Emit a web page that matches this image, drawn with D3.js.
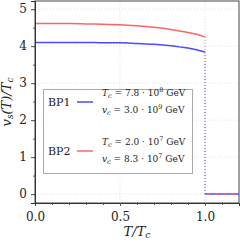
<!DOCTYPE html>
<html>
<head>
<meta charset="utf-8">
<script src="https://cdn.jsdelivr.net/npm/d3@7"></script>
<style>
  html, body { margin: 0; padding: 0; background: #fff; }
  svg text { font-family: "DejaVu Serif", "Liberation Serif", "Times New Roman", serif !important; }
</style>
</head>
<body>
<svg id="chart" width="240" height="242"></svg>
<script>
// temperature ratio T/Tc where the curves were read
const tValues = [0, 0.1, 0.2, 0.3, 0.4, 0.5, 0.6, 0.7, 0.8, 0.85, 0.9, 0.95, 1.0];
const bp1Values = [4.10, 4.10, 4.10, 4.10, 4.09, 4.09, 4.07, 4.05, 4.01, 3.98, 3.95, 3.90, 3.84];
const bp2Values = [4.61, 4.61, 4.61, 4.60, 4.59, 4.58, 4.55, 4.51, 4.45, 4.41, 4.37, 4.32, 4.25];
const tAfter = [1.0, 1.2];
const zeroAfter = [0, 0];

const xTicks = [0, 0.5, 1.0];
const yTicks = [0, 1, 2, 3, 4, 5];
const xMinor = [0, 0.1, 0.2, 0.3, 0.4, 0.5, 0.6, 0.7, 0.8, 0.9, 1.0, 1.1];
const yMinor = [0, 0.5, 1, 1.5, 2, 2.5, 3, 3.5, 4, 4.5, 5];

const legendNames = ["BP1", "BP2"];
const legendTc = ["7.8", "2.0"];
const legendTcExp = ["8", "7"];
const legendVc = ["3.0", "8.3"];
const legendVcExp = ["9", "7"];

const blue = "#4b4bff";
const red = "#ff6464";

const margin = { top: 1, right: 1, bottom: 39, left: 35 };
const width = 240 - margin.left - margin.right;
const height = 242 - margin.top - margin.bottom;

const svg = d3.select("#chart");
const g = svg.append("g").attr("transform", `translate(${margin.left},${margin.top})`);

const xScale = d3.scaleLinear().domain([0, 1.2]).range([0, width]);
const yScale = d3.scaleLinear().domain([-0.24, 5.22]).range([height, 0]);

// grid
g.append("g")
  .selectAll("line")
  .data(yTicks)
  .join("line")
  .attr("x1", 0)
  .attr("x2", width)
  .attr("y1", (d) => yScale(d))
  .attr("y2", (d) => yScale(d))
  .attr("stroke", "#d8d8d8")
  .attr("stroke-width", 0.8)
  .attr("stroke-dasharray", "1,2");

g.append("g")
  .selectAll("line")
  .data(xTicks.slice(1))
  .join("line")
  .attr("x1", (d) => xScale(d))
  .attr("x2", (d) => xScale(d))
  .attr("y1", 0)
  .attr("y2", height)
  .attr("stroke", "#d8d8d8")
  .attr("stroke-width", 0.8)
  .attr("stroke-dasharray", "1,2");

// frame
g.append("rect")
  .attr("width", width)
  .attr("height", height)
  .attr("fill", "none")
  .attr("stroke", "#444")
  .attr("stroke-width", 1);

// curves
const line = d3
  .line()
  .x((d) => xScale(d[0]))
  .y((d) => yScale(d[1]))
  .curve(d3.curveMonotoneX);

g.append("path")
  .datum(d3.zip(tValues, bp2Values))
  .attr("d", line)
  .attr("fill", "none")
  .attr("stroke", red)
  .attr("stroke-width", 1.5);

g.append("path")
  .datum(d3.zip(tValues, bp1Values))
  .attr("d", line)
  .attr("fill", "none")
  .attr("stroke", blue)
  .attr("stroke-width", 1.5);

// drops at T = Tc
[[bp2Values, red], [bp1Values, blue]].forEach(([vals, color]) => {
  g.append("line")
    .attr("x1", xScale(1.0))
    .attr("x2", xScale(1.0))
    .attr("y1", yScale(vals[vals.length - 1]))
    .attr("y2", yScale(0))
    .attr("stroke", color)
    .attr("stroke-opacity", 0.7)
    .attr("stroke-width", 1)
    .attr("stroke-dasharray", "1,2");
});

// zero after Tc
g.append("path")
  .datum(d3.zip(tAfter, zeroAfter))
  .attr("d", d3.line().x((d) => xScale(d[0])).y((d) => yScale(d[1])))
  .attr("stroke", blue)
  .attr("stroke-width", 1.5);

g.append("path")
  .datum(d3.zip(tAfter, zeroAfter))
  .attr("d", d3.line().x((d) => xScale(d[0])).y((d) => yScale(d[1])))
  .attr("stroke", red)
  .attr("stroke-width", 1.5)
  .attr("stroke-dasharray", "4,4")
  .attr("stroke-dashoffset", -2);

// axes
const xAxisMinor = g.append("g")
  .attr("transform", `translate(0,${height})`)
  .call(d3.axisBottom(xScale).tickValues(xMinor).tickSize(2).tickFormat(""));
const xAxis = g.append("g")
  .attr("transform", `translate(0,${height})`)
  .call(d3.axisBottom(xScale).tickValues(xTicks).tickSize(3).tickPadding(6).tickFormat(d3.format(".1f")));
const yAxisMinor = g.append("g")
  .call(d3.axisLeft(yScale).tickValues(yMinor).tickSize(2).tickFormat(""));
const yAxis = g.append("g")
  .call(d3.axisLeft(yScale).tickValues(yTicks).tickSize(4).tickPadding(4).tickFormat(d3.format("d")));

[xAxisMinor, xAxis, yAxisMinor, yAxis].forEach((ax) => {
  ax.attr("font-family", null);
  ax.select(".domain").attr("stroke", "#333");
  ax.selectAll(".tick line").attr("stroke", "#555");
  ax.selectAll("text")
    .attr("font-size", 12)
    .attr("fill", "#222");
});

// axis labels
svg.append("text")
  .attr("x", margin.left + width / 2)
  .attr("y", 236)
  .attr("text-anchor", "middle")
  .attr("font-size", 13)
  .attr("font-style", "italic")
  .attr("fill", "#222")
  .call((t) => {
    t.append("tspan").text("T/T");
    t.append("tspan").attr("font-size", 9).attr("dy", 2).text("c");
  });

svg.append("text")
  .attr("transform", `translate(11,${margin.top + height / 2}) rotate(-90)`)
  .attr("text-anchor", "middle")
  .attr("font-size", 13)
  .attr("font-style", "italic")
  .attr("fill", "#222")
  .call((t) => {
    t.append("tspan").text("v");
    t.append("tspan").attr("font-size", 9).attr("dy", 2).text("s");
    t.append("tspan").attr("dy", -2).text("(T)/T");
    t.append("tspan").attr("font-size", 9).attr("dy", 2).text("c");
  });

// legend
const legend = svg.append("g");
legend.append("rect")
  .attr("x", 43.5)
  .attr("y", 89.5)
  .attr("width", 149)
  .attr("height", 84)
  .attr("fill", "#fff")
  .attr("stroke", "#aaa")
  .attr("stroke-width", 1);

const rows = [102, 151];
const colors = [blue, red];

function mathLine(sel, sym, val, exp) {
  sel.append("tspan").attr("font-style", "italic").text(sym);
  sel.append("tspan").attr("font-style", "italic").attr("font-size", 6.5).attr("dy", 2).text("c");
  sel.append("tspan").attr("dy", -2).text(` = ${val} · 10`);
  sel.append("tspan").attr("font-size", 6.5).attr("dy", -4).text(exp);
  sel.append("tspan").attr("dy", 4).text(" GeV");
}

legendNames.forEach((name, i) => {
  const cy = rows[i];
  legend.append("text")
    .attr("x", 48)
    .attr("y", cy + 4)
    .attr("font-size", 11)
    .attr("fill", "#222")
    .text(name);
  legend.append("line")
    .attr("x1", 77)
    .attr("x2", 93)
    .attr("y1", cy)
    .attr("y2", cy)
    .attr("stroke", colors[i])
    .attr("stroke-width", 1.5);
  legend.append("text")
    .attr("x", 102)
    .attr("y", cy - 6)
    .attr("font-size", 9)
    .attr("fill", "#222")
    .call((t) => mathLine(t, "T", legendTc[i], legendTcExp[i]));
  legend.append("text")
    .attr("x", 102)
    .attr("y", cy + 11)
    .attr("font-size", 9)
    .attr("fill", "#222")
    .call((t) => mathLine(t, "v", legendVc[i], legendVcExp[i]));
});
</script>
</body>
</html>
